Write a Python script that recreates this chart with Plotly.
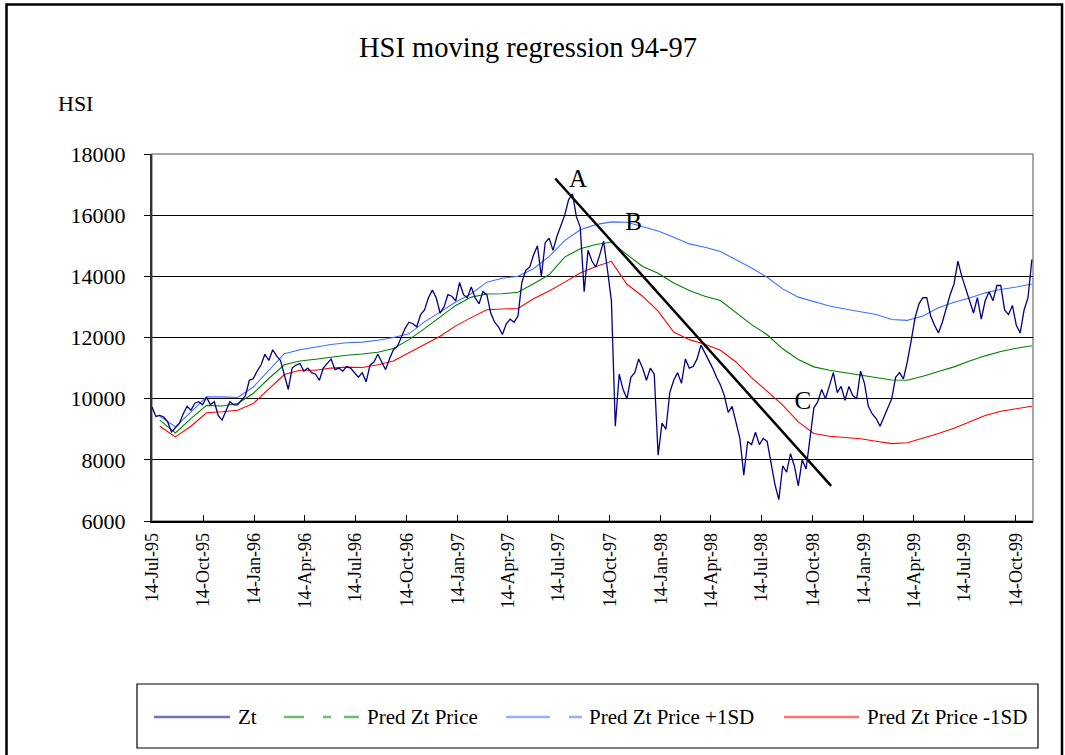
import plotly.graph_objects as go
import pandas as pd

# ---------------- data ----------------
zt_values = [
    9730, 9420, 9450, 9400, 9250, 8920, 9050, 9180, 9500, 9750,
    9620, 9850, 9900, 9800, 10050, 9800, 9900, 9450, 9300, 9600,
    9900, 9800, 9800, 9950, 10100, 10600, 10650, 10900, 11100, 11450,
    11250, 11600, 11400, 11250, 10800, 10300, 11000, 11100, 11150, 10900,
    11000, 10850, 10800, 10600, 11000, 11150, 11300, 10950, 11000, 10900,
    11050, 11000, 10850, 10700, 10850, 10550, 11100, 11200, 11450, 11200,
    10950, 11300, 11600, 11700, 12000, 12300, 12500, 12450, 12350, 12750,
    12900, 13300, 13550, 13300, 12800, 13000, 13400, 13350, 13200, 13800,
    13400, 13300, 13650, 13300, 13100, 13500, 13400, 12800, 12500, 12350,
    12100, 12450, 12600, 12500, 12700, 13800, 14200, 14300, 14700, 15000,
    14000, 15100, 15250, 14850, 15300, 15650, 16000, 16500, 16700, 15950,
    15600, 13500, 14850, 14500, 14300, 14700, 15150, 14200, 13200, 9100,
    10800, 10300, 10000, 10700, 10850, 11300, 11000, 10600, 11000, 10800,
    8150, 9200, 9000, 10200, 10600, 10850, 10500, 11300, 11000, 11050,
    11300, 11750, 11500, 11300, 11000, 10700, 10450, 10100, 9550, 9750,
    9200, 8700, 7500, 8600, 8500, 8900, 8500, 8700, 8600, 7950,
    7200, 6700, 7800, 7600, 8200, 7800, 7150, 8000, 7700, 8700,
    9700, 9900, 10300, 10000, 10400, 10850, 10200, 10400, 9950, 10400,
    10100, 10000, 10900, 10500, 9750, 9500, 9350, 9100, 9400, 9700,
    10000, 10700, 10850, 10650, 11200, 11900, 12650, 13100, 13300, 13300,
    12700, 12400, 12150, 12500, 12950, 13400, 13750, 14500, 14000, 13600,
    13200, 12800, 13300, 12600, 13200, 13500, 13200, 13700, 13700, 12900,
    12750, 13050, 12400, 12150, 12900, 13300, 14550,
]

pred_values = [
    9300, 8880, 9350, 9780, 9760, 9840, 10170, 10660, 11110, 11230,
    11290, 11360, 11420, 11460, 11520, 11640, 11930, 12290, 12670, 13050,
    13320, 13420, 13430, 13480, 13760, 14050, 14630, 14900, 15040, 15120,
    14710, 14320, 14100, 13780, 13540, 13350, 13210, 12800, 12420, 12090,
    11630, 11280, 11040, 10930, 10850, 10780, 10690, 10610, 10600, 10730,
    10890, 11040, 11230, 11400, 11540, 11650, 11730,
]

pred_plus_values = [
    9420, 9080, 9570, 10060, 10060, 10040, 10380, 10930, 11470, 11600,
    11690, 11770, 11830, 11850, 11910, 12000, 12120, 12510, 12830, 13160,
    13430, 13810, 13940, 14000, 14250, 14650, 15170, 15520, 15690, 15780,
    15770, 15630, 15480, 15280, 15060, 14950, 14810, 14540, 14270, 13970,
    13590, 13320, 13170, 13030, 12930, 12830, 12750, 12590, 12560, 12700,
    12970, 13150, 13290, 13460, 13570, 13650, 13750,
]

pred_minus_values = [
    9100, 8750, 9100, 9540, 9570, 9620, 9840, 10330, 10790, 10930,
    10930, 11000, 11030, 11020, 11110, 11230, 11490, 11770, 12040, 12380,
    12650, 12910, 12930, 12950, 13270, 13520, 13810, 14110, 14320, 14490,
    13740, 13350, 12860, 12180, 11930, 11780, 11580, 11200, 10690, 10250,
    9790, 9240, 8860, 8770, 8720, 8690, 8610, 8530, 8560, 8700,
    8860, 9030, 9240, 9450, 9590, 9680, 9750,
]

zt_dates = pd.date_range("1995-07-14", periods=len(zt_values), freq="7D")
pred_dates = pd.date_range("1995-07-28", periods=len(pred_values), freq="28D")

trend_dates = ["1997-07-08", "1998-11-16"]
trend_values = [17200, 7150]

point_labels = ["A", "B", "C"]
point_dates = ["1997-08-18", "1997-11-26", "1998-09-26"]
point_values = [17120, 15710, 9860]

x_tick_dates = [
    "1995-07-14", "1995-10-14", "1996-01-14", "1996-04-14", "1996-07-14",
    "1996-10-14", "1997-01-14", "1997-04-14", "1997-07-14", "1997-10-14",
    "1998-01-14", "1998-04-14", "1998-07-14", "1998-10-14", "1999-01-14",
    "1999-04-14", "1999-07-14", "1999-10-14",
]
x_tick_labels = [pd.Timestamp(d).strftime("%d-%b-%y") for d in x_tick_dates]

series_names = ["Zt", "Pred Zt Price", "Pred Zt Price +1SD", "Pred Zt Price -1SD"]
series_colors = ["#000080", "#008000", "#3F6FFF", "#FF0000"]

# ---------------- figure ----------------
W, H = 1065, 755
L, R, T, B = 152, 1033, 154, 521
FONT = "Liberation Serif"


def px(x):
    return (x - L) / (R - L)


def py(y):
    return (B - y) / (B - T)


fig = go.Figure()

fig.add_trace(go.Scatter(x=pred_dates, y=pred_plus_values, mode="lines",
                         line=dict(color=series_colors[2], width=1.1),
                         name=series_names[2], showlegend=False))
fig.add_trace(go.Scatter(x=pred_dates, y=pred_values, mode="lines",
                         line=dict(color=series_colors[1], width=1.1),
                         name=series_names[1], showlegend=False))
fig.add_trace(go.Scatter(x=pred_dates, y=pred_minus_values, mode="lines",
                         line=dict(color=series_colors[3], width=1.1),
                         name=series_names[3], showlegend=False))
fig.add_trace(go.Scatter(x=zt_dates, y=zt_values, mode="lines",
                         line=dict(color=series_colors[0], width=1.3),
                         name=series_names[0], showlegend=False))
fig.add_trace(go.Scatter(x=trend_dates, y=trend_values, mode="lines",
                         line=dict(color="black", width=2.5),
                         showlegend=False, cliponaxis=False))
fig.add_trace(go.Scatter(x=point_dates, y=point_values, mode="text",
                         text=point_labels,
                         textfont=dict(family=FONT, size=25, color="black"),
                         showlegend=False))

shapes = []
# outer chart border
shapes.append(dict(type="rect", xref="paper", yref="paper",
                   x0=px(6.5), x1=px(1062), y0=py(800), y1=py(4.5),
                   line=dict(color="black", width=2.5), layer="below"))
# plot area border (grey)
shapes.append(dict(type="rect", xref="paper", yref="paper",
                   x0=0, x1=1, y0=0, y1=1,
                   line=dict(color="#8a8a8a", width=1.5), layer="below"))
# legend box
shapes.append(dict(type="rect", xref="paper", yref="paper",
                   x0=px(137), x1=px(1038), y0=py(748), y1=py(684),
                   line=dict(color="black", width=1.2)))

legend_line_x = [(154, 230), (284, 359), (506, 582), (784, 859)]
legend_dash = ["solid", "20px,19px,8px,13px", "44px,19px,13px,19px", "solid"]
legend_text_x = [236, 365, 587, 865]
legend_y = 717
for (a, b), dsh, col in zip(legend_line_x, legend_dash, series_colors):
    shapes.append(dict(type="line", xref="paper", yref="paper",
                       x0=px(a), x1=px(b), y0=py(legend_y), y1=py(legend_y),
                       line=dict(color=col, width=2.5, dash=dsh), opacity=0.55))

annotations = [
    dict(text="HSI moving regression 94-97", xref="paper", yref="paper",
         x=px(528), y=py(48), xanchor="center", yanchor="middle", showarrow=False,
         font=dict(family=FONT, size=28.5, color="black")),
    dict(text="HSI", xref="paper", yref="paper",
         x=px(75), y=py(103), xanchor="center", yanchor="middle", showarrow=False,
         font=dict(family=FONT, size=22, color="black")),
]
for tx, name in zip(legend_text_x, series_names):
    annotations.append(dict(text=name, xref="paper", yref="paper",
                            x=px(tx), y=py(legend_y), xanchor="left", yanchor="middle",
                            showarrow=False,
                            font=dict(family=FONT, size=21, color="black")))

fig.update_layout(
    width=W, height=H,
    margin=dict(l=L, r=W - R, t=T, b=H - B, pad=0),
    paper_bgcolor="white", plot_bgcolor="white",
    showlegend=False,
    shapes=shapes, annotations=annotations,
    font=dict(family=FONT, color="black"),
)

fig.update_xaxes(
    type="date", range=["1995-07-14", "1999-11-14"],
    tickmode="array", tickvals=x_tick_dates, ticktext=x_tick_labels,
    tickangle=-90, tickfont=dict(family=FONT, size=18, color="black"),
    ticks="inside", ticklen=6, tickcolor="black", tickwidth=1,
    showgrid=False, zeroline=False,
    showline=True, linecolor="black", linewidth=1.5,
    ticklabelstandoff=3,
)
fig.update_yaxes(
    range=[6000, 18000], tickmode="linear", tick0=6000, dtick=2000,
    tickformat="d", tickfont=dict(family=FONT, size=22, color="black"),
    ticks="outside", ticklen=6, tickcolor="black", tickwidth=1,
    showgrid=True, gridcolor="black", gridwidth=1, zeroline=False,
    showline=True, linecolor="#333333", linewidth=2,
    ticklabelstandoff=14,
)

fig.write_html(
    "out.html",
    config={"displayModeBar": False},
    post_script="document.body.style.margin='0';document.body.style.overflow='hidden';",
)
